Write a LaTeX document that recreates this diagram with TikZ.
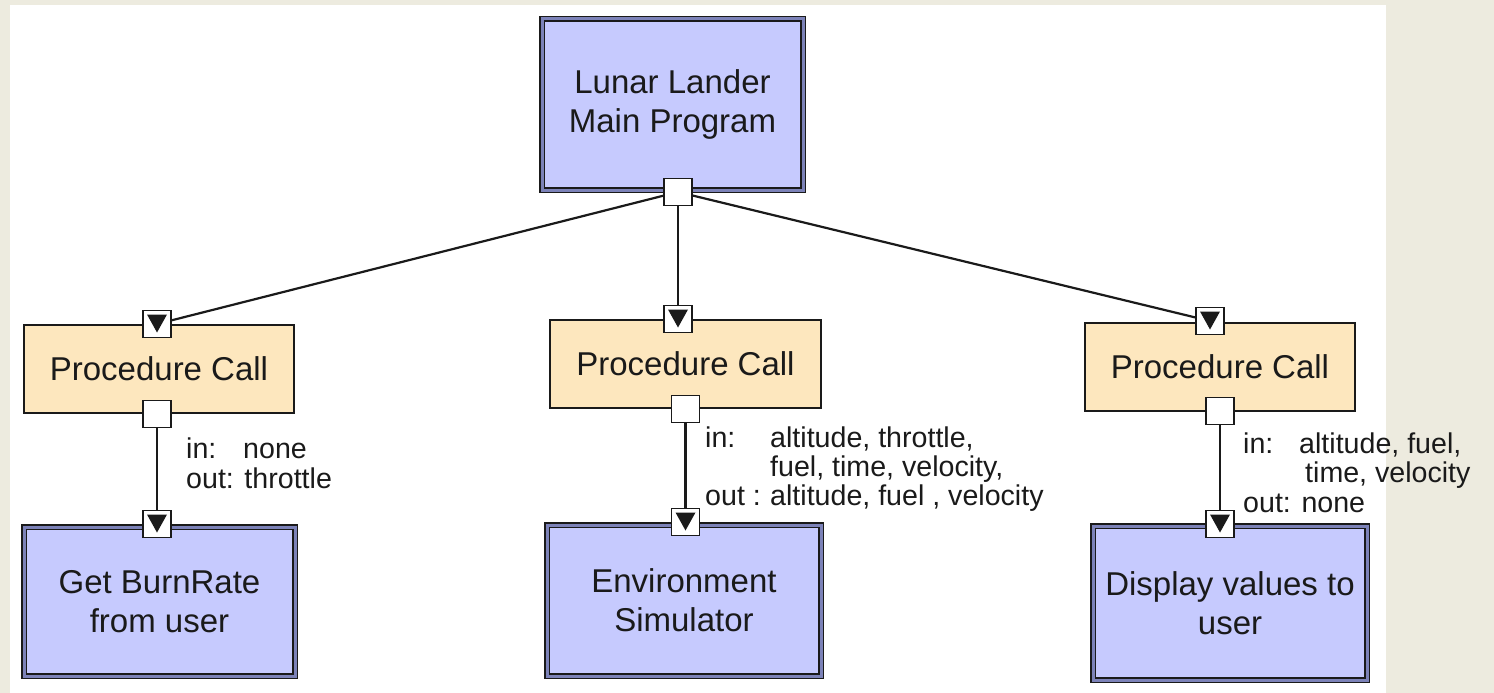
\documentclass[tikz,border=0pt]{standalone}
\usepackage{fontspec}
\setmainfont{Liberation Sans}
\definecolor{bgbeige}{HTML}{EDEBDF}
\definecolor{modfill}{HTML}{C6CAFE}
\definecolor{modband}{HTML}{7C82B8}
\definecolor{pcfill}{HTML}{FDE7BE}
\definecolor{ink}{HTML}{1A1A1A}
\newcommand\bxfont{\fontsize{33}{39}\selectfont}
\newcommand\lbfont{\fontsize{28.6}{29}\selectfont}
\tikzset{
  module/.style={draw=ink, line width=1.5pt, double=modband, double distance=3pt,
    fill=modfill, align=center, font=\bxfont, inner sep=0pt, text=ink},
  pcall/.style={draw=ink, line width=2pt, fill=pcfill, font=\bxfont, inner sep=0pt, text=ink},
  port/.style={draw=ink, fill=white, line width=1.5pt, minimum width=28pt,
    minimum height=27pt, inner sep=0pt},
  inport/.style={port, path picture={
    \fill[ink] ([shift={(-10pt,-4pt)}]path picture bounding box.north)
      -- ([shift={(10pt,-4pt)}]path picture bounding box.north)
      -- ([shift={(0pt,5pt)}]path picture bounding box.south) -- cycle;}},
  conn/.style={draw=ink, line width=2.2pt},
  lbl/.style={font=\lbfont, anchor=base west, inner sep=0pt, text=ink},
}
\begin{document}
\begin{tikzpicture}[x=1pt, y=-1pt]
% background
\fill[bgbeige] (0,0) rectangle (1494,693);
\fill[white] (10,5) rectangle (1386,693);
\useasboundingbox (0,0) rectangle (1494,693);

% modules
\node[module, minimum width=261pt, minimum height=171pt] (main) at (672.5,104.5) {Lunar Lander\\Main Program};
\node[module, minimum width=271pt, minimum height=149pt] (burn) at (159.5,601.5) {Get BurnRate\\from user};
\node[module, minimum width=274pt, minimum height=151pt] (env) at (684,600.5) {Environment\\Simulator};
\node[module, minimum width=274pt, minimum height=154pt] (disp) at (1230,603) {Display values to\\user};

% procedure calls
\node[pcall, minimum width=270pt, minimum height=88pt] (pcl) at (159,369) {Procedure Call};
\node[pcall, minimum width=271pt, minimum height=88pt] (pcm) at (685.5,364) {Procedure Call};
\node[pcall, minimum width=270pt, minimum height=88pt] (pcr) at (1220,367) {Procedure Call};

% ports
\node[port] (mp) at (678,192) {};
\node[inport] (lt) at (157,324) {};
\node[port] (lb) at (157,414) {};
\node[inport] (lbt) at (157,524) {};
\node[inport] (mt) at (678,319) {};
\node[port] (mb) at (685.5,409) {};
\node[inport] (mbt) at (685.5,522) {};
\node[inport] (rt) at (1210,321) {};
\node[port] (rb) at (1220,411) {};
\node[inport] (rbt) at (1220,524) {};

% connectors
\draw[conn] (mp) -- (lt);
\draw[conn] (mp) -- (mt);
\draw[conn] (mp) -- (rt);
\draw[conn] (lb) -- (lbt);
\draw[conn] (mb) -- (mbt);
\draw[conn] (rb) -- (rbt);

% labels
\node[lbl] (l1) at (186,458) {in:};
\node[lbl] (l2) at (243,458) {none};
\node[lbl] (l3) at (186,488) {out: throttle};

\node[lbl] (m1) at (705,447) {in:};
\node[lbl] (m2) at (770,447) {altitude, throttle,};
\node[lbl] (m3) at (770,476) {fuel, time, velocity,};
\node[lbl] (m4) at (705,505) {out :};
\node[lbl] (m5) at (770,505) {altitude, fuel , velocity};

\node[lbl] (r1) at (1243,453) {in:};
\node[lbl] (r2) at (1299,453) {altitude, fuel,};
\node[lbl] (r3) at (1305,482) {time, velocity};
\node[lbl] (r4) at (1243,512) {out: none};
\end{tikzpicture}
\end{document}
